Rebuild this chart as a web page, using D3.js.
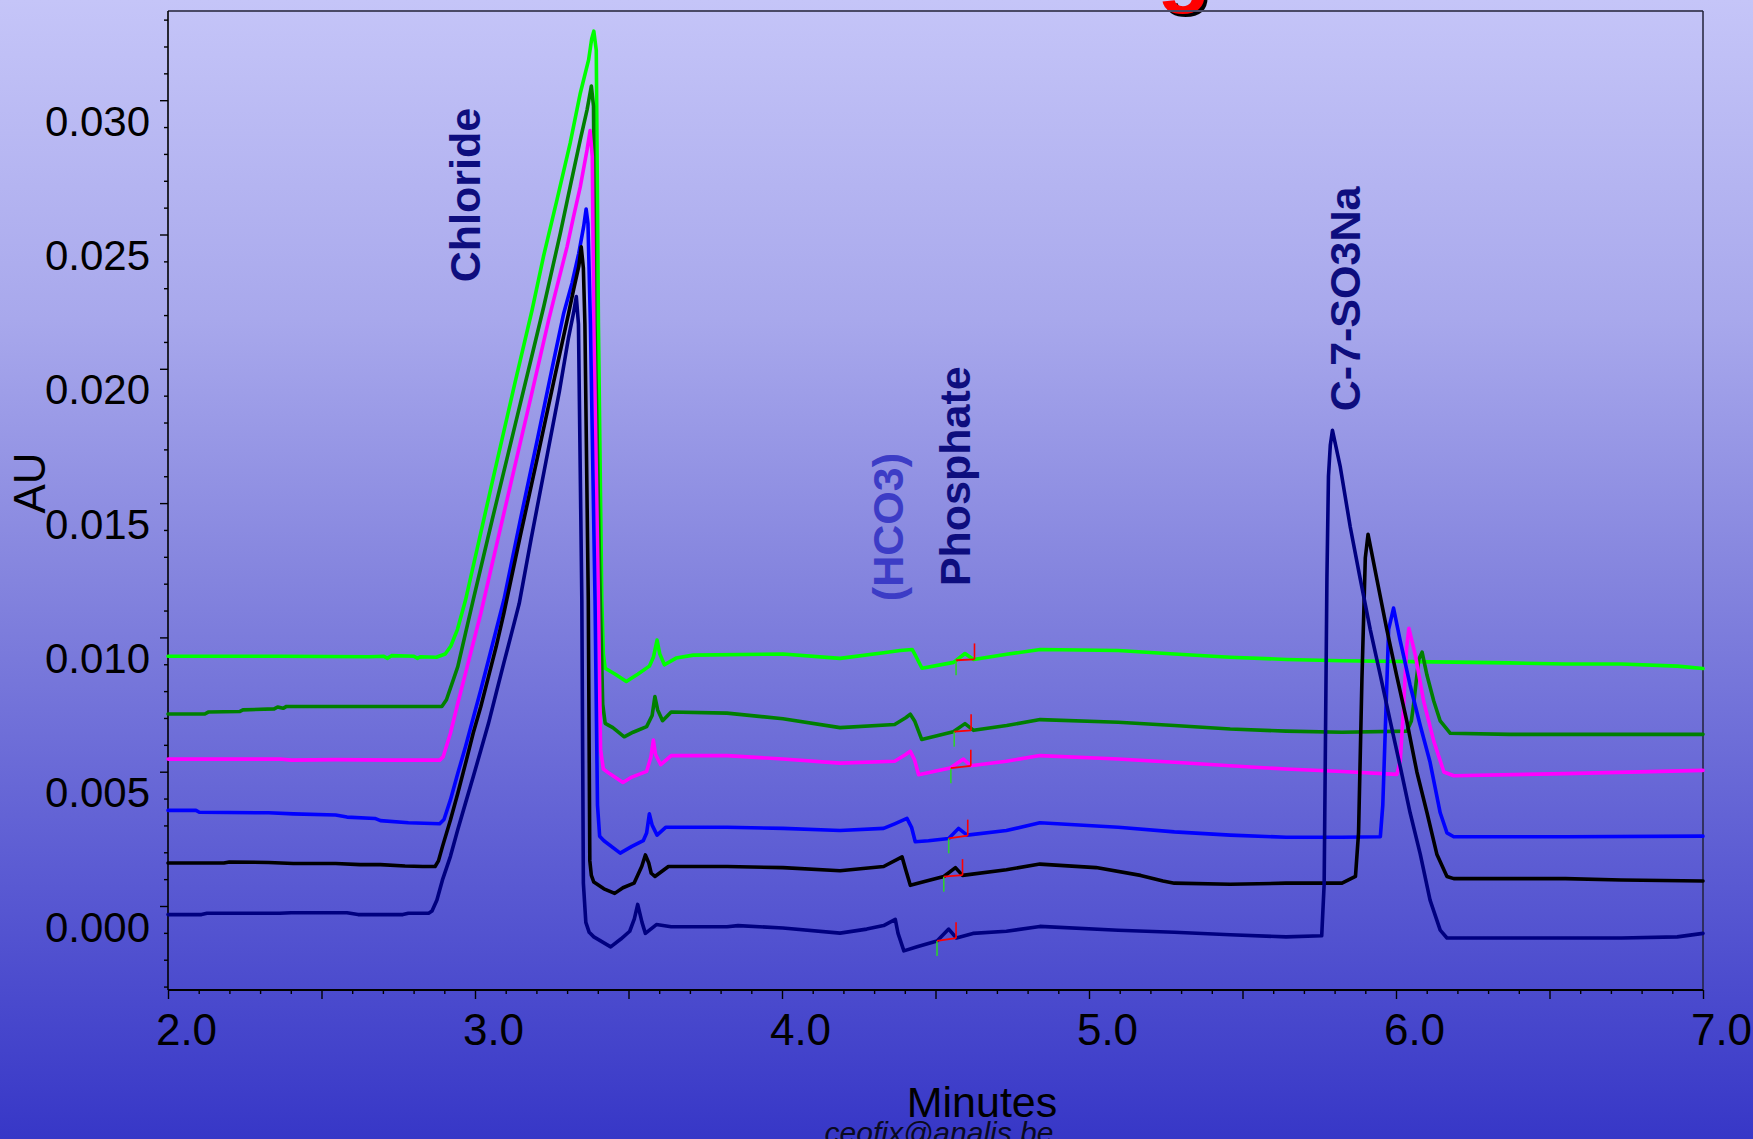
<!DOCTYPE html>
<html>
<head>
<meta charset="utf-8">
<script src="https://cdn.jsdelivr.net/npm/d3@7"></script>
<style>
  html, body { margin: 0; padding: 0; overflow: hidden; }
  svg { display: block; }
  text { font-family: "Liberation Sans", Arial, sans-serif; }
</style>
</head>
<body>
<svg id="chart" width="1753" height="1139"></svg>
<script>
// ---- Chromatogram data: retention time (min) vs absorbance (AU) ----
const timeTickValues = [2, 3, 4, 5, 6, 7];
const timeTickLabels = ["2.0", "3.0", "4.0", "5.0", "6.0", "7.0"];
const auTickValues = [0, 0.005, 0.010, 0.015, 0.020, 0.025, 0.030];
const auTickLabels = ["0.000", "0.005", "0.010", "0.015", "0.020", "0.025", "0.030"];

const traceNavy = [
  [2.000,-0.00032],[2.109,-0.00032],[2.127,-0.00027],[2.364,-0.00027],[2.401,-0.00025],[2.583,-0.00025],
  [2.619,-0.00032],[2.765,-0.00032],[2.783,-0.00027],[2.849,-0.00027],[2.860,-0.00019],[2.876,0.00022],
  [2.894,0.00097],[2.920,0.00185],[2.944,0.00285],[2.969,0.00383],[2.994,0.00480],[3.019,0.00580],
  [3.044,0.00680],[3.069,0.00793],[3.094,0.00905],[3.119,0.01015],[3.144,0.01126],[3.183,0.01368],
  [3.231,0.01654],[3.275,0.01917],[3.304,0.02112],[3.321,0.02208],[3.330,0.02269],[3.337,0.02166],
  [3.348,0.01138],[3.353,0.00085],[3.361,-0.00061],[3.372,-0.00098],[3.387,-0.00115],[3.442,-0.00152],
  [3.475,-0.00123],[3.504,-0.00094],[3.519,-0.00048],[3.530,0.00006],[3.544,-0.00061],[3.555,-0.00102],
  [3.591,-0.00069],[3.639,-0.00077],[3.821,-0.00077],[3.857,-0.00073],[4.003,-0.00082],[4.189,-0.00101],
  [4.276,-0.00086],[4.331,-0.00073],[4.369,-0.00050],[4.378,-0.00102],[4.397,-0.00167],[4.440,-0.00152],
  [4.505,-0.00130],[4.543,-0.00086],[4.568,-0.00119],[4.622,-0.00102],[4.731,-0.00094],[4.840,-0.00076],
  [5.095,-0.00090],[5.278,-0.00098],[5.460,-0.00107],[5.642,-0.00115],[5.758,-0.00111],[5.766,0.00082],
  [5.775,0.01221],[5.780,0.01600],[5.786,0.01715],[5.793,0.01771],[5.818,0.01638],[5.851,0.01411],
  [5.883,0.01221],[5.916,0.01030],[5.949,0.00859],[5.981,0.00689],[6.014,0.00518],[6.046,0.00347],
  [6.079,0.00193],[6.111,0.00022],[6.144,-0.00090],[6.166,-0.00119],[6.370,-0.00119],[6.734,-0.00119],
  [6.916,-0.00115],[7.000,-0.00102]
];

const traceBlack = [
  [2.000,0.00160],[2.182,0.00160],[2.200,0.00164],[2.328,0.00162],[2.408,0.00158],[2.546,0.00158],
  [2.626,0.00154],[2.692,0.00154],[2.772,0.00149],[2.830,0.00147],[2.870,0.00147],[2.881,0.00168],
  [2.894,0.00221],[2.920,0.00320],[2.944,0.00420],[2.969,0.00530],[2.994,0.00643],[3.019,0.00743],
  [3.044,0.00854],[3.069,0.00966],[3.094,0.01090],[3.147,0.01375],[3.202,0.01663],[3.256,0.01950],
  [3.305,0.02207],[3.321,0.02294],[3.338,0.02381],[3.346,0.02454],[3.353,0.02375],[3.358,0.02166],
  [3.369,0.01138],[3.374,0.00168],[3.379,0.00114],[3.387,0.00089],[3.420,0.00064],[3.455,0.00047],
  [3.482,0.00068],[3.518,0.00085],[3.543,0.00147],[3.555,0.00190],[3.566,0.00160],[3.574,0.00122],
  [3.586,0.00110],[3.630,0.00147],[3.821,0.00147],[4.003,0.00143],[4.189,0.00131],[4.331,0.00147],
  [4.391,0.00183],[4.403,0.00135],[4.418,0.00077],[4.458,0.00089],[4.527,0.00110],[4.565,0.00143],
  [4.588,0.00114],[4.731,0.00135],[4.840,0.00156],[5.023,0.00143],[5.168,0.00114],[5.241,0.00093],
  [5.278,0.00085],[5.460,0.00081],[5.642,0.00085],[5.824,0.00085],[5.868,0.00110],[5.878,0.00272],
  [5.889,0.00843],[5.900,0.01296],[5.909,0.01384],[5.937,0.01221],[5.970,0.01030],[6.002,0.00859],
  [6.035,0.00689],[6.068,0.00499],[6.101,0.00347],[6.133,0.00193],[6.166,0.00110],[6.188,0.00102],
  [6.552,0.00102],[6.734,0.00097],[7.000,0.00093]
];

const traceBlue = [
  [2.000,0.00356],[2.091,0.00356],[2.102,0.00349],[2.328,0.00347],[2.408,0.00343],[2.546,0.00339],
  [2.583,0.00331],[2.674,0.00326],[2.692,0.00318],[2.783,0.00310],[2.885,0.00306],[2.899,0.00322],
  [2.920,0.00395],[2.944,0.00494],[2.969,0.00593],[2.994,0.00699],[3.019,0.00805],[3.044,0.00916],
  [3.069,0.01028],[3.094,0.01139],[3.147,0.01434],[3.202,0.01731],[3.256,0.02029],[3.289,0.02207],
  [3.316,0.02319],[3.338,0.02430],[3.354,0.02530],[3.362,0.02595],[3.368,0.02541],[3.376,0.02166],
  [3.391,0.01138],[3.399,0.00376],[3.406,0.00260],[3.420,0.00243],[3.473,0.00197],[3.511,0.00222],
  [3.548,0.00243],[3.559,0.00272],[3.568,0.00343],[3.577,0.00301],[3.593,0.00264],[3.621,0.00293],
  [3.821,0.00293],[4.003,0.00289],[4.189,0.00281],[4.331,0.00289],[4.367,0.00306],[4.407,0.00326],
  [4.422,0.00293],[4.434,0.00239],[4.477,0.00243],[4.543,0.00251],[4.575,0.00289],[4.603,0.00264],
  [4.731,0.00281],[4.840,0.00310],[5.095,0.00293],[5.278,0.00276],[5.460,0.00264],[5.642,0.00256],
  [5.824,0.00256],[5.949,0.00258],[5.957,0.00376],[5.965,0.00651],[5.976,0.01030],[5.992,0.01109],
  [6.013,0.00992],[6.046,0.00822],[6.079,0.00672],[6.111,0.00535],[6.144,0.00347],[6.166,0.00272],
  [6.188,0.00258],[6.552,0.00258],[7.000,0.00260]
];

const traceMagenta = [
  [2.000,0.00547],[2.364,0.00547],[2.401,0.00543],[2.546,0.00545],[2.728,0.00543],[2.885,0.00543],
  [2.896,0.00555],[2.920,0.00643],[2.944,0.00755],[2.969,0.00866],[2.994,0.00978],[3.019,0.01090],
  [3.074,0.01363],[3.129,0.01634],[3.184,0.01904],[3.240,0.02182],[3.267,0.02306],[3.300,0.02455],
  [3.321,0.02567],[3.343,0.02678],[3.365,0.02815],[3.375,0.02887],[3.382,0.02791],[3.387,0.02166],
  [3.402,0.01138],[3.409,0.00584],[3.418,0.00510],[3.438,0.00493],[3.482,0.00460],[3.511,0.00480],
  [3.559,0.00501],[3.573,0.00555],[3.581,0.00618],[3.588,0.00564],[3.605,0.00526],[3.639,0.00560],
  [3.821,0.00560],[4.003,0.00547],[4.189,0.00532],[4.367,0.00539],[4.403,0.00564],[4.418,0.00576],
  [4.432,0.00543],[4.445,0.00489],[4.494,0.00501],[4.548,0.00514],[4.591,0.00547],[4.614,0.00522],
  [4.731,0.00539],[4.840,0.00560],[5.095,0.00547],[5.278,0.00535],[5.460,0.00522],[5.642,0.00510],
  [5.824,0.00501],[6.003,0.00490],[6.014,0.00543],[6.025,0.00747],[6.034,0.00955],[6.042,0.01034],
  [6.063,0.00934],[6.090,0.00763],[6.123,0.00614],[6.156,0.00499],[6.188,0.00485],[6.552,0.00493],
  [7.000,0.00505]
];

const traceDarkGreen = [
  [2.000,0.00715],[2.120,0.00715],[2.131,0.00722],[2.233,0.00724],[2.244,0.00730],[2.346,0.00734],
  [2.357,0.00741],[2.375,0.00736],[2.386,0.00743],[2.892,0.00743],[2.907,0.00768],[2.944,0.00891],
  [2.969,0.01015],[2.994,0.01139],[3.056,0.01438],[3.129,0.01783],[3.184,0.02042],[3.224,0.02232],
  [3.246,0.02343],[3.278,0.02505],[3.310,0.02678],[3.343,0.02853],[3.365,0.02964],[3.379,0.03053],
  [3.386,0.02978],[3.391,0.02166],[3.408,0.01138],[3.416,0.00751],[3.424,0.00680],[3.449,0.00664],
  [3.486,0.00630],[3.515,0.00647],[3.559,0.00668],[3.577,0.00709],[3.586,0.00780],[3.595,0.00730],
  [3.611,0.00690],[3.639,0.00722],[3.821,0.00718],[4.003,0.00697],[4.189,0.00664],[4.367,0.00676],
  [4.403,0.00701],[4.418,0.00714],[4.432,0.00689],[4.455,0.00620],[4.558,0.00649],[4.596,0.00679],
  [4.624,0.00654],[4.732,0.00672],[4.841,0.00694],[5.095,0.00684],[5.278,0.00672],[5.460,0.00659],
  [5.642,0.00651],[5.824,0.00647],[6.035,0.00651],[6.050,0.00689],[6.057,0.00747],[6.074,0.00918],
  [6.085,0.00945],[6.101,0.00859],[6.123,0.00763],[6.144,0.00689],[6.177,0.00643],[6.370,0.00639],
  [7.000,0.00639]
];

const traceLime = [
  [2.000,0.00930],[2.364,0.00930],[2.656,0.00928],[2.703,0.00930],[2.714,0.00922],[2.728,0.00932],
  [2.801,0.00930],[2.812,0.00922],[2.823,0.00928],[2.874,0.00926],[2.903,0.00938],[2.921,0.00967],
  [2.943,0.01030],[2.969,0.01138],[3.056,0.01577],[3.129,0.01942],[3.186,0.02219],[3.223,0.02418],
  [3.267,0.02629],[3.310,0.02840],[3.343,0.03026],[3.370,0.03150],[3.380,0.03228],[3.387,0.03257],
  [3.395,0.03186],[3.402,0.02166],[3.413,0.01138],[3.418,0.00938],[3.424,0.00885],[3.457,0.00863],
  [3.493,0.00836],[3.530,0.00863],[3.568,0.00893],[3.581,0.00926],[3.593,0.00990],[3.602,0.00938],
  [3.617,0.00898],[3.655,0.00923],[3.711,0.00934],[4.003,0.00938],[4.189,0.00922],[4.331,0.00943],
  [4.385,0.00951],[4.424,0.00955],[4.436,0.00930],[4.456,0.00885],[4.559,0.00907],[4.596,0.00940],
  [4.624,0.00918],[4.732,0.00937],[4.841,0.00955],[5.095,0.00951],[5.278,0.00938],[5.460,0.00926],
  [5.642,0.00918],[5.824,0.00913],[6.188,0.00908],[6.370,0.00905],[6.552,0.00901],[6.734,0.00901],
  [6.916,0.00893],[7.000,0.00884]
];

// Phosphate integration baseline per run: [start min, start AU, end min, end AU]
const phosphateNavy      = [4.505, -0.00130, 4.567, -0.00120];
const phosphateBlack     = [4.527,  0.00109, 4.588,  0.00115];
const phosphateBlue      = [4.543,  0.00252, 4.605,  0.00262];
const phosphateMagenta   = [4.550,  0.00513, 4.615,  0.00522];
const phosphateDarkGreen = [4.561,  0.00649, 4.616,  0.00654];
const phosphateLime      = [4.567,  0.00915, 4.627,  0.00918];

// Peak names, anchored at (min, AU) and written bottom-to-top
const peakLabels = ["Chloride", "(HCO3)", "Phosphate", "C-7-SO3Na"];
const peakLabelTimes = [3.016, 4.394, 4.612, 5.883];
const peakLabelValues = [0.02322, 0.01135, 0.01191, 0.01842];

// ---- Drawing ----
const W = 1753, H = 1139;
const svg = d3.select("#chart");

const x = d3.scaleLinear().domain([2, 7]).range([168, 1703]);
const y = d3.scaleLinear().domain([0, 0.030]).range([906, 100.2]);
const plotTop = 11, plotBottom = 990;

// background wash
const defs = svg.append("defs");
const grad = defs.append("linearGradient").attr("id", "bg")
  .attr("x1", 0).attr("y1", 0).attr("x2", 0).attr("y2", 1);
[[0, "#c5c5f8"], [0.28, "#a8a8ec"], [0.51, "#8484de"], [0.76, "#5c5cd3"], [1, "#3737c7"]]
  .forEach(([o, c]) => grad.append("stop").attr("offset", o).attr("stop-color", c));
svg.append("rect").attr("width", W).attr("height", H).attr("fill", "url(#bg)");

// title fragment peeking in at the top edge
const title = svg.append("g").attr("font-weight", "bold").attr("font-size", 88);
title.append("text").attr("x", 1160).attr("y", -1.5).attr("fill", "#000").text("g");
title.append("text").attr("x", 1157).attr("y", -4.5).attr("fill", "#ff0000").text("g");

// frame
svg.append("line").attr("x1", x(2)).attr("x2", x(7)).attr("y1", plotTop).attr("y2", plotTop)
  .attr("stroke", "#4a4a66").attr("stroke-width", 2);
svg.append("line").attr("x1", x(7)).attr("x2", x(7)).attr("y1", plotTop).attr("y2", plotBottom)
  .attr("stroke", "#22223a").attr("stroke-width", 1.5);

// y axis
const yMinor = d3.range(-3, 34).map(i => i / 1000).filter(v => Math.round(v * 1000) % 5 !== 0);
const gyMinor = svg.append("g").attr("transform", `translate(${x(2)},0)`)
  .call(d3.axisLeft(y).tickValues(yMinor).tickSize(4).tickFormat(""));
gyMinor.select(".domain").remove();
const gy = svg.append("g").attr("transform", `translate(${x(2)},0)`)
  .call(d3.axisLeft(y).tickValues(auTickValues).tickSize(8)
    .tickFormat((d, i) => auTickLabels[i]));
gy.select(".domain").remove();
gy.selectAll("text").attr("x", -18).attr("dy", null).attr("y", 35)
  .attr("font-size", 42).attr("fill", "#000").attr("font-family", "Liberation Sans, Arial, sans-serif");
svg.selectAll(".tick line").attr("stroke", "#000").attr("stroke-width", 1.4);

// x axis
const xMinor = d3.range(20, 71).map(i => i / 10).filter(v => Math.round(v * 10) % 5 !== 0);
const xHalf = d3.range(4, 15).map(i => i / 2);
const gxMinor = svg.append("g").attr("transform", `translate(0,${plotBottom})`)
  .call(d3.axisBottom(x).tickValues(xMinor).tickSize(4).tickFormat(""));
gxMinor.select(".domain").remove();
const gxHalf = svg.append("g").attr("transform", `translate(0,${plotBottom})`)
  .call(d3.axisBottom(x).tickValues(xHalf).tickSize(9).tickFormat(""));
gxHalf.select(".domain").remove();
const gx = svg.append("g").attr("transform", `translate(0,${plotBottom})`)
  .call(d3.axisBottom(x).tickValues(timeTickValues).tickSize(0)
    .tickFormat((d, i) => timeTickLabels[i]));
gx.select(".domain").remove();
gx.selectAll("text").attr("x", 18).attr("dy", null).attr("y", 55)
  .attr("font-size", 44).attr("fill", "#000").attr("font-family", "Liberation Sans, Arial, sans-serif");
svg.selectAll(".tick line").attr("stroke", "#000").attr("stroke-width", 1.4);

// axis lines
svg.append("line").attr("x1", x(2)).attr("x2", x(2)).attr("y1", plotTop).attr("y2", plotBottom)
  .attr("stroke", "#000").attr("stroke-width", 1.6);
svg.append("line").attr("x1", x(2)).attr("x2", x(7)).attr("y1", plotBottom).attr("y2", plotBottom)
  .attr("stroke", "#000").attr("stroke-width", 1.8);

// axis titles
svg.append("text").attr("transform", `translate(45,483) rotate(-90)`)
  .attr("text-anchor", "middle").attr("font-size", 44).attr("fill", "#000").text("AU");
svg.append("text").attr("x", 982).attr("y", 1117).attr("text-anchor", "middle")
  .attr("font-size", 43).attr("fill", "#000").text("Minutes");
svg.append("text").attr("x", 939).attr("y", 1143).attr("text-anchor", "middle")
  .attr("font-size", 30).attr("font-style", "italic").attr("fill", "#0a0a20").text("ceofix@analis.be");

// traces
const line = d3.line().x(d => x(d[0])).y(d => y(d[1]));
const runs = [
  { data: traceLime, color: "#00ff00", integ: phosphateLime },
  { data: traceDarkGreen, color: "#007f00", integ: phosphateDarkGreen },
  { data: traceMagenta, color: "#ff00ff", integ: phosphateMagenta },
  { data: traceBlue, color: "#0000ff", integ: phosphateBlue },
  { data: traceBlack, color: "#000000", integ: phosphateBlack },
  { data: traceNavy, color: "#000080", integ: phosphateNavy }
];
const traces = svg.append("g").attr("fill", "none")
  .attr("stroke-linejoin", "round").attr("stroke-linecap", "round");
runs.forEach(r => {
  traces.append("path").attr("d", line(r.data))
    .attr("stroke", r.color).attr("stroke-width", 3.6);
});

// phosphate integration marks: start tick (green), baseline and end tick (red)
const marks = svg.append("g");
runs.forEach(r => {
  const [t0, v0, t1, v1] = r.integ;
  marks.append("line").attr("x1", x(t0)).attr("x2", x(t0)).attr("y1", y(v0)).attr("y2", y(v0) + 15)
    .attr("stroke", "#2ed02e").attr("stroke-width", 1.6);
  marks.append("line").attr("x1", x(t0)).attr("x2", x(t1)).attr("y1", y(v0)).attr("y2", y(v1))
    .attr("stroke", "#ff0000").attr("stroke-width", 1.8);
  marks.append("line").attr("x1", x(t1)).attr("x2", x(t1)).attr("y1", y(v1)).attr("y2", y(v1) - 16)
    .attr("stroke", "#ff0000").attr("stroke-width", 1.6);
});

// peak names
const labelColors = ["#0e0e7e", "#3c3cc6", "#0e0e7e", "#0e0e7e"];
peakLabels.forEach((txt, i) => {
  svg.append("text")
    .attr("transform", `translate(${x(peakLabelTimes[i])},${y(peakLabelValues[i])}) rotate(-90)`)
    .attr("font-size", 43).attr("font-weight", "bold")
    .attr("fill", labelColors[i]).text(txt);
});
</script>
</body>
</html>
